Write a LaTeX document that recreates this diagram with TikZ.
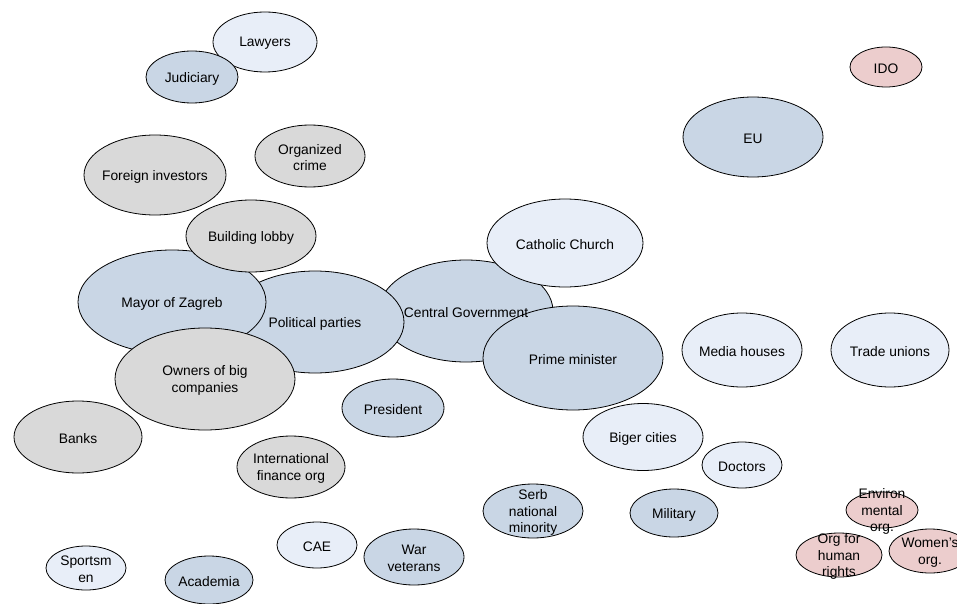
\documentclass[tikz,border=0pt]{standalone}
\usepackage{fontspec}
\setmainfont{Liberation Sans}
\usetikzlibrary{shapes.geometric}
\definecolor{cblue}{RGB}{201,214,229}
\definecolor{clight}{RGB}{232,238,248}
\definecolor{cgray}{RGB}{217,217,217}
\definecolor{cpink}{RGB}{236,205,205}
\tikzset{
  bub/.style={ellipse, draw=black, line width=0.8pt, inner sep=0pt, outer sep=0pt},
  bb/.style={bub, fill=cblue},
  bl/.style={bub, fill=clight},
  bg/.style={bub, fill=cgray},
  bp/.style={bub, fill=cpink},
  sz/.style 2 args={minimum width=#1pt, minimum height=#2pt},
  lbl/.style={font=\fontsize{13.8}{16.8}\selectfont, align=center, inner sep=0pt, text=black, yshift=-1.5pt}
}
\begin{document}
\begin{tikzpicture}[x=1pt,y=-1pt]
\useasboundingbox (0,0) rectangle (957,604);
% ellipses
\node[bl, sz={104}{60}] (law) at (265,42) {};
\node[bb, sz={92}{52}] (jud) at (192,77) {};
\node[bp, sz={72}{40}] (ido) at (886,67) {};
\node[bb, sz={140}{80}] (eu) at (753,137) {};
\node[bg, sz={110}{62}] (orc) at (310,156) {};
\node[bg, sz={142}{80}] (fin) at (155,175) {};
\node[bb, sz={174}{102}] (cg) at (466,311) {};
\node[bb, sz={178}{102}] (pp) at (315,322) {};
\node[bb, sz={188}{104}] (may) at (172,302) {};
\node[bg, sz={130}{72}] (bl) at (251,236) {};
\node[bg, sz={180}{102}] (own) at (205,379) {};
\node[bl, sz={156}{88}] (cc) at (565,243) {};
\node[bb, sz={180}{104}] (pm) at (573,358) {};
\node[bl, sz={120}{74}] (med) at (742,350) {};
\node[bl, sz={118}{74}] (tu) at (890,350) {};
\node[bb, sz={102}{58}] (pres) at (393,408) {};
\node[bg, sz={128}{72}] (bank) at (78,437) {};
\node[bg, sz={108}{62}] (ifo) at (291,467) {};
\node[bl, sz={120}{67}] (bc) at (643,437) {};
\node[bl, sz={80}{46}] (doc) at (742,465) {};
\node[bb, sz={100}{54}] (serb) at (533,511) {};
\node[bb, sz={88}{48}] (mil) at (674,513) {};
\node[bl, sz={80}{46}] (cae) at (317,545) {};
\node[bb, sz={100}{56}] (war) at (414,557) {};
\node[bl, sz={80}{44}] (spo) at (86,568) {};
\node[bb, sz={88}{48}] (aca) at (209,580) {};
\node[bp, sz={72}{36}] (env) at (882,510) {};
\node[bp, sz={86}{44}] (ohr) at (839,555) {};
\node[bp, sz={82}{44}] (wom) at (930,551) {};
% labels
\node[lbl] at (law) {Lawyers};
\node[lbl] at (jud) {Judiciary};
\node[lbl] at (ido) {IDO};
\node[lbl] at (eu) {EU};
\node[lbl] at (orc) {Organized\\crime};
\node[lbl] at (fin) {Foreign investors};
\node[lbl] at (cg) {Central Government};
\node[lbl] at (pp) {Political parties};
\node[lbl] at (may) {Mayor of Zagreb};
\node[lbl] at (bl) {Building lobby};
\node[lbl] at (own) {Owners of big\\companies};
\node[lbl] at (cc) {Catholic Church};
\node[lbl] at (pm) {Prime minister};
\node[lbl] at (med) {Media houses};
\node[lbl] at (tu) {Trade unions};
\node[lbl] at (pres) {President};
\node[lbl] at (bank) {Banks};
\node[lbl] at (ifo) {International\\finance org};
\node[lbl] at (bc) {Biger cities};
\node[lbl] at (doc) {Doctors};
\node[lbl] at (serb) {Serb\\national\\minority};
\node[lbl] at (mil) {Military};
\node[lbl] at (cae) {CAE};
\node[lbl] at (war) {War\\veterans};
\node[lbl] at (spo) {Sportsm\\en};
\node[lbl] at (aca) {Academia};
\node[lbl] at (env) {Environ\\mental\\org.};
\node[lbl] at (ohr) {Org for\\human\\rights};
\node[lbl] at (wom) {Women's\\org.};
\end{tikzpicture}
\end{document}
